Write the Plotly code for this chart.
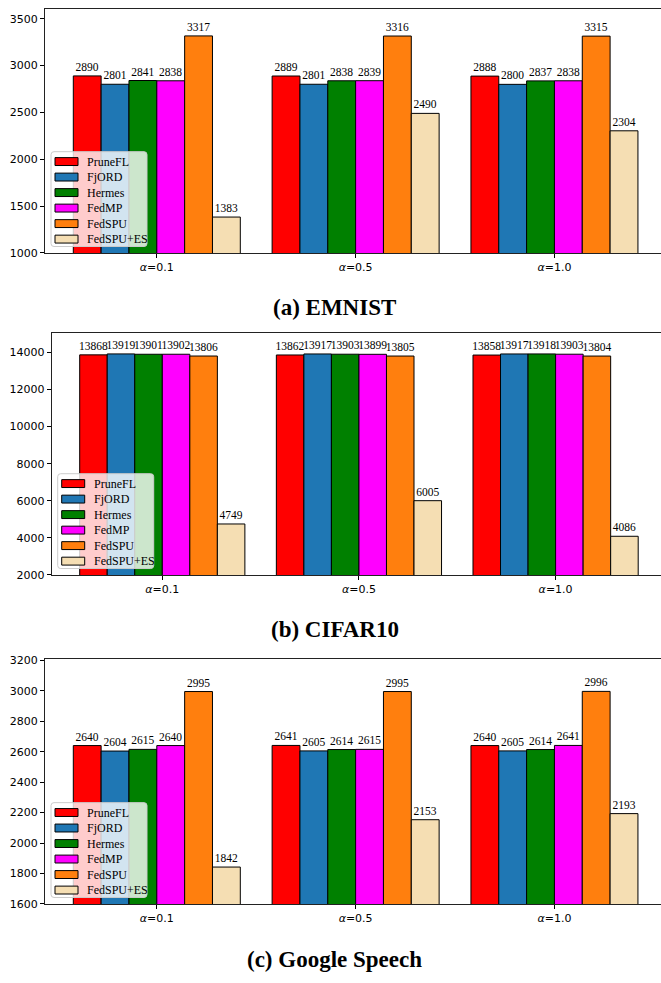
import plotly.graph_objects as go

# ---- data -------------------------------------------------------------
methods = ["PruneFL", "FjORD", "Hermes", "FedMP", "FedSPU", "FedSPU+ES"]
alpha_labels = ["<i>α</i>=0.1", "<i>α</i>=0.5", "<i>α</i>=1.0"]
colors = ["#ff0000", "#1f77b4", "#008000", "#ff00ff", "#ff7f0e", "#f5deb3"]

emnist = {
    "PruneFL": [2890, 2889, 2888],
    "FjORD": [2801, 2801, 2800],
    "Hermes": [2841, 2838, 2837],
    "FedMP": [2838, 2839, 2838],
    "FedSPU": [3317, 3316, 3315],
    "FedSPU+ES": [1383, 2490, 2304],
}
cifar10 = {
    "PruneFL": [13868, 13862, 13858],
    "FjORD": [13919, 13917, 13917],
    "Hermes": [13901, 13903, 13918],
    "FedMP": [13902, 13899, 13903],
    "FedSPU": [13806, 13805, 13804],
    "FedSPU+ES": [4749, 6005, 4086],
}
speech = {
    "PruneFL": [2640, 2641, 2640],
    "FjORD": [2604, 2605, 2605],
    "Hermes": [2615, 2614, 2614],
    "FedMP": [2640, 2615, 2641],
    "FedSPU": [2995, 2995, 2996],
    "FedSPU+ES": [1842, 2153, 2193],
}

emnist_ticks = [1000, 1500, 2000, 2500, 3000, 3500]
cifar10_ticks = [2000, 4000, 6000, 8000, 10000, 12000, 14000]
speech_ticks = [1600, 1800, 2000, 2200, 2400, 2600, 2800, 3000, 3200]

titles = ["(a) EMNIST", "(b) CIFAR10", "(c) Google Speech"]

# ---- layout geometry (pixels) ------------------------------------------
W, H = 661, 983
panels = [
    # data, ticks, y-range, left px, top px, bottom px, title y px
    (emnist, emnist_ticks, [1000, 3605], 45.0, 4.0, 251.0, 306.0),
    (cifar10, cifar10_ticks, [2000, 15050], 51.7, 332.0, 577.0, 632.0),
    (speech, speech_ticks, [1600, 3206], 45.0, 662.5, 910.0, 966.0),
]


def px(x):
    return x / W


def py(y):
    return 1 - y / H


fig = go.Figure()
shapes = []
annotations = []

serif = "Liberation Serif"
sans = "DejaVu Sans"

for i, (data, ticks, yr, left, top, bottom, title_y) in enumerate(panels):
    sfx = "" if i == 0 else str(i + 1)
    xname, yname = "x" + sfx, "y" + sfx
    for m, c in zip(methods, colors):
        vals = data[m]
        fig.add_trace(go.Bar(
            x=[0, 1, 2], y=vals, name=m,
            marker=dict(color=c, line=dict(color="black", width=1)),
            text=[str(v) for v in vals], textposition="outside",
            textfont=dict(family=serif, size=11.5, color="black"),
            constraintext="none", cliponaxis=False,
            showlegend=False, xaxis=xname, yaxis=yname,
        ))

    fig.update_layout(**{
        "xaxis" + sfx: dict(
            domain=[px(left), 1.0], range=[-0.5624, 2.536],
            tickvals=[0, 1, 2], ticktext=alpha_labels,
            ticks="outside", ticklen=4, tickwidth=1, tickcolor="black",
            showline=True, linecolor="#222", linewidth=1.2, mirror=True,
            showgrid=False, zeroline=False, anchor=yname,
            tickfont=dict(family=sans, size=11, color="black"),
        ),
        "yaxis" + sfx: dict(
            domain=[py(bottom), py(top)], range=yr,
            tickvals=ticks, tickformat="d", ticks="outside", ticklen=4,
            tickwidth=1, tickcolor="black", showline=True, linecolor="#222",
            linewidth=1.2, mirror=False, showgrid=False, zeroline=False,
            anchor=xname,
            tickfont=dict(family=sans, size=11, color="black"),
        ),
    })

    # legend box in the lower-left corner of each panel
    lx0 = left + 6
    lx1 = lx0 + 96
    ly1 = bottom - 6.5
    ly0 = ly1 - 96
    r = 3
    path = (
        f"M {px(lx0 + r)},{py(ly0)} L {px(lx1 - r)},{py(ly0)} "
        f"Q {px(lx1)},{py(ly0)} {px(lx1)},{py(ly0 + r)} "
        f"L {px(lx1)},{py(ly1 - r)} Q {px(lx1)},{py(ly1)} {px(lx1 - r)},{py(ly1)} "
        f"L {px(lx0 + r)},{py(ly1)} Q {px(lx0)},{py(ly1)} {px(lx0)},{py(ly1 - r)} "
        f"L {px(lx0)},{py(ly0 + r)} Q {px(lx0)},{py(ly0)} {px(lx0 + r)},{py(ly0)} Z"
    )
    shapes.append(dict(
        type="path", path=path, xref="paper", yref="paper",
        fillcolor="rgba(255,255,255,0.8)",
        line=dict(color="#cccccc", width=1), layer="above",
    ))
    for k, (m, c) in enumerate(zip(methods, colors)):
        cy = ly0 + 10 + k * 15.7
        shapes.append(dict(
            type="rect", xref="paper", yref="paper",
            x0=px(lx0 + 4), x1=px(lx0 + 27), y0=py(cy + 4), y1=py(cy - 4),
            fillcolor=c, line=dict(color="black", width=1), layer="above",
        ))
        annotations.append(dict(
            text=m, xref="paper", yref="paper", x=px(lx0 + 34.5), y=py(cy),
            xanchor="left", yanchor="middle", showarrow=False,
            font=dict(family=serif, size=12, color="black"),
        ))

    annotations.append(dict(
        text=f"<b>{titles[i]}</b>", xref="paper", yref="paper",
        x=px(335), y=py(title_y), xanchor="center", yanchor="middle",
        showarrow=False, font=dict(family=serif, size=23, color="black"),
    ))

fig.update_layout(
    width=W, height=H, margin=dict(l=0, r=0, t=0, b=0),
    paper_bgcolor="white", plot_bgcolor="white",
    barmode="group", bargap=0.16, bargroupgap=0,
    showlegend=False, shapes=shapes, annotations=annotations,
)

fig.write_html("out.html")
